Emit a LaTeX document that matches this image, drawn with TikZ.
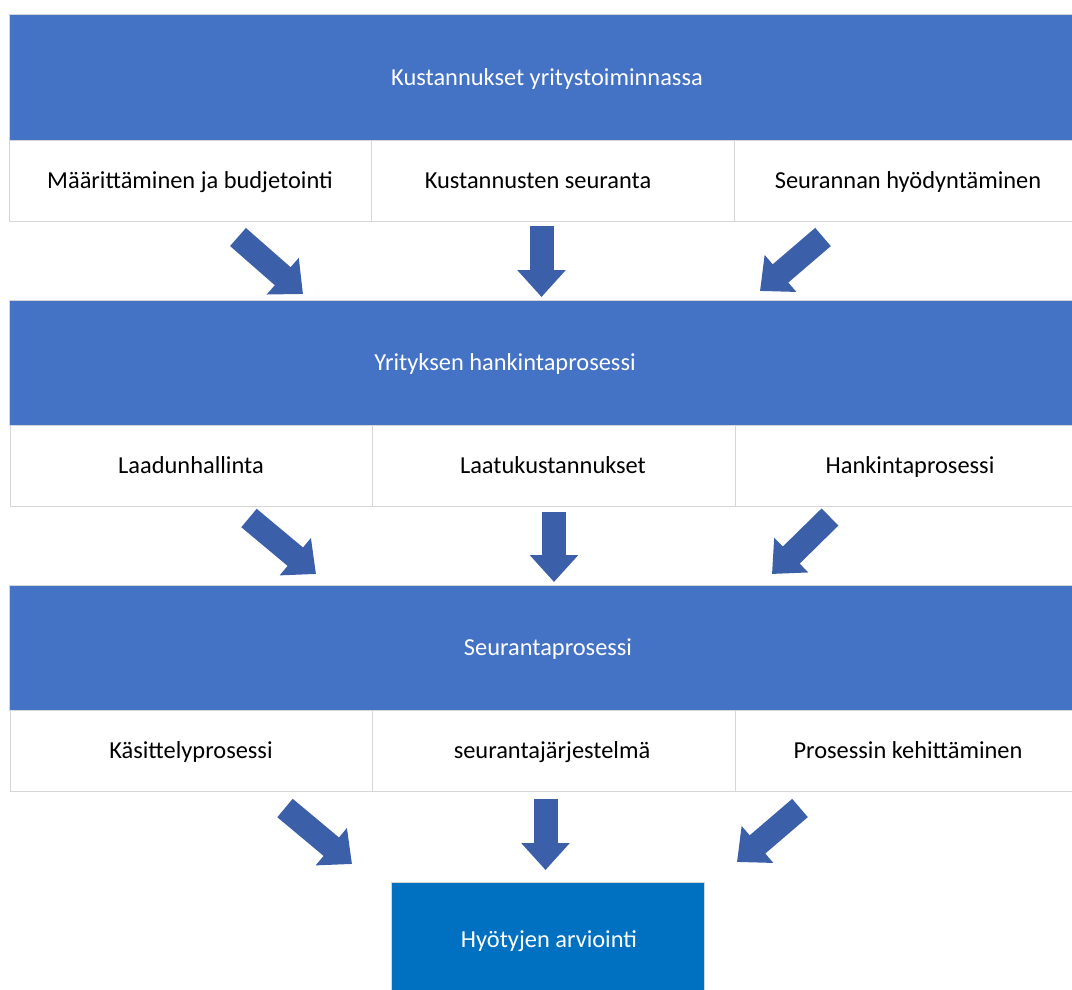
\documentclass[tikz,border=0pt]{standalone}
\usepackage{fontspec}
\setmainfont{Carlito}
\usetikzlibrary{arrows.meta}
\definecolor{bandblue}{HTML}{4472C4}
\definecolor{arrowblue}{HTML}{3B5FA8}
\definecolor{resultblue}{HTML}{0070C0}
\definecolor{cellline}{HTML}{D6D6D6}
\tikzset{
  band/.style={draw=cellline, line width=1pt, fill=bandblue, minimum width=1088pt, minimum height=125pt, inner sep=0pt},
  cell/.style={draw=cellline, line width=1pt, fill=white, minimum width=363pt, minimum height=81pt, inner sep=0pt},
  result/.style={draw=cellline, line width=1pt, fill=resultblue, minimum width=313pt, minimum height=140pt, inner sep=0pt},
  label/.style={font=\fontsize{24.4}{29}\selectfont, inner sep=0pt, text height=15.7pt, text depth=0pt},
  lighttext/.style={label, text=white},
  darktext/.style={label, text=black},
  blockarrow/.style={draw=arrowblue, line width=24pt, -{Triangle[length=27pt, width=47pt]}, arrowblue}
}
\begin{document}
\begin{tikzpicture}[x=1pt, y=-1pt]
\useasboundingbox (0,0) rectangle (1072,990);
\clip (0,0) rectangle (1072,990);

% first level
\node[band] (b1) at (553,77.5) {};
\node[lighttext] (t1) at (547,78) {Kustannukset yritystoiminnassa};
\node[cell] (c11) at (190.5,180.5) {};
\node[cell] (c12) at (552.5,180.5) {};
\node[cell] (c13) at (915.5,180.5) {};
\node[darktext] at (190,181) {Määrittäminen ja budjetointi};
\node[darktext] at (538,181) {Kustannusten seuranta};
\node[darktext] at (908,181) {Seurannan hyödyntäminen};

% second level
\node[band] (b2) at (553,362.5) {};
\node[lighttext] (t2) at (505,363) {Yrityksen hankintaprosessi};
\node[cell] (c21) at (191.5,465.5) {};
\node[cell] (c22) at (553.5,465.5) {};
\node[cell] (c23) at (916.5,465.5) {};
\node[darktext] at (191,466) {Laadunhallinta};
\node[darktext] at (553,466) {Laatukustannukset};
\node[darktext] at (910,466) {Hankintaprosessi};

% third level
\node[band] (b3) at (553,647.5) {};
\node[lighttext] (t3) at (548,648) {Seurantaprosessi};
\node[cell] (c31) at (191.5,750.5) {};
\node[cell] (c32) at (553.5,750.5) {};
\node[cell] (c33) at (916.5,750.5) {};
\node[darktext] at (191,751) {Käsittelyprosessi};
\node[darktext] at (552,751) {seurantajärjestelmä};
\node[darktext] at (908,751) {Prosessin kehittäminen};

% outcome
\node[result] (r) at (548,952) {};
\node[lighttext] at (549,940) {Hyötyjen arviointi};

% arrow anchors
\coordinate (a1s) at (238,237);  \coordinate (a1e) at (303,294);
\coordinate (a2s) at (541.5,226); \coordinate (a2e) at (541.5,297);
\coordinate (a3s) at (823,237);  \coordinate (a3e) at (760,291);
\coordinate (a4s) at (249,518);  \coordinate (a4e) at (316,574);
\coordinate (a5s) at (554,512);  \coordinate (a5e) at (554,582);
\coordinate (a6s) at (830,517);  \coordinate (a6e) at (772,574);
\coordinate (a7s) at (285,808);  \coordinate (a7e) at (352,864);
\coordinate (a8s) at (545.5,799); \coordinate (a8e) at (545.5,870);
\coordinate (a9s) at (800,808);  \coordinate (a9e) at (737,862);

\foreach \i in {1,...,9} {
  \draw[blockarrow] (a\i s) -- (a\i e);
}
\end{tikzpicture}
\end{document}
